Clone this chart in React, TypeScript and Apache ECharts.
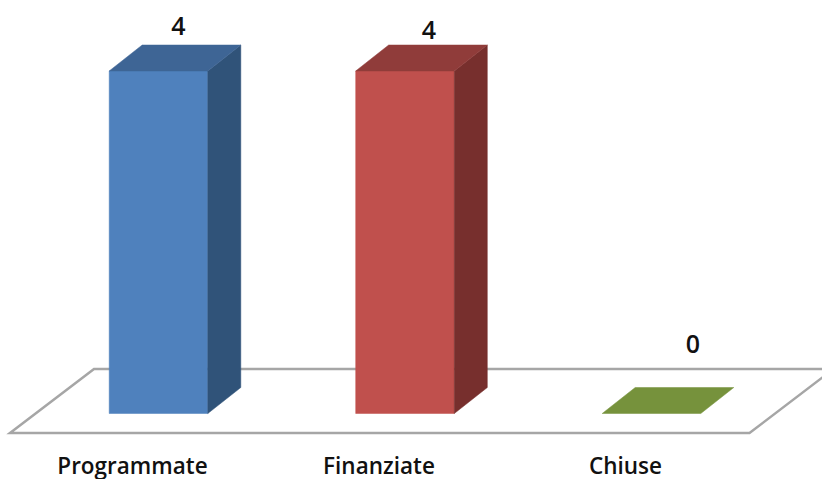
import React, { useEffect, useRef } from "react";
import * as echarts from "echarts";

const categories = ["Programmate", "Finanziate", "Chiuse"];
const values = [4, 4, 0];
const yMax = 4;

const palette = [
  { front: "#4F81BD", top: "#3E6595", side: "#305379" },
  { front: "#C0504D", top: "#903C3A", side: "#772F2D" },
  { front: "#9BBB59", top: "#779440", side: "#5F7733" },
];
const labelDx = [20, 24, 41.5];
const labelDy = [20, 16, 45];
const DEPTH_X = 33;
const DEPTH_Y = 26;
const FONT = "'Open Sans', 'Noto Sans', sans-serif";

export default function App() {
  const ref = useRef<HTMLDivElement>(null);
  useEffect(() => {
    document.body.style.margin = "0";
    document.body.style.overflow = "hidden";
    const chart = echarts.init(ref.current!, undefined, { renderer: "svg" });
    chart.setOption({
      animation: false,
      backgroundColor: "#ffffff",
      grid: { left: 35.25, width: 739.5, top: 71, height: 342.5, outerBoundsMode: "none" },
      xAxis: {
        type: "category",
        data: categories,
        axisLine: { show: false },
        axisTick: { show: false },
        axisLabel: {
          margin: 40,
          padding: [0, 52, 0, 0],
          fontFamily: FONT,
          fontSize: 22.5,
          fontWeight: 600,
          color: "#111111",
        },
      },
      yAxis: { type: "value", min: 0, max: yMax, interval: 1, show: false },
      graphic: [
        {
          type: "polygon",
          z: 0,
          shape: { points: [[10, 433], [749.5, 433], [833.5, 369], [94, 369]] },
          style: { fill: "#ffffff", stroke: "#A6A6A6", lineWidth: 2.5 },
        },
      ],
      series: [
        {
          type: "custom",
          data: values.map((v, i) => [i, v]),
          encode: { x: 0, y: 1 },
          clip: false,
          z: 2,
          renderItem: (params: any, api: any) => {
            const i = api.value(0);
            const v = api.value(1);
            const [cx, y0] = api.coord([i, 0]);
            const [, y1] = api.coord([i, v]);
            const half = (api.size([1, 0])[0] * 0.4) / 2;
            const l = cx - half;
            const r = cx + half;
            const c = palette[i];
            const poly = (points: number[][], fill: string) => ({
              type: "polygon",
              shape: { points },
              style: { fill, stroke: fill, lineWidth: 0.5 },
            });
            const children: any[] = [];
            if (v > 0) {
              children.push(poly([[l, y0], [r, y0], [r, y1], [l, y1]], c.front));
              children.push(
                poly([[r, y0], [r + DEPTH_X, y0 - DEPTH_Y], [r + DEPTH_X, y1 - DEPTH_Y], [r, y1]], c.side)
              );
            }
            children.push(
              poly([[l, y1], [r, y1], [r + DEPTH_X, y1 - DEPTH_Y], [l + DEPTH_X, y1 - DEPTH_Y]], v > 0 ? c.top : "#76923C")
            );
            children.push({
              type: "text",
              style: {
                x: cx + labelDx[i],
                y: y1 - DEPTH_Y - labelDy[i],
                text: String(v),
                align: "center",
                verticalAlign: "middle",
                fontFamily: FONT,
                fontSize: 25,
                fontWeight: 600,
                fill: "#111111",
              },
            });
            return { type: "group", children };
          },
        },
      ],
    });
    return () => chart.dispose();
  }, []);
  return <div ref={ref} style={{ width: 822, height: 479 }} />;
}
